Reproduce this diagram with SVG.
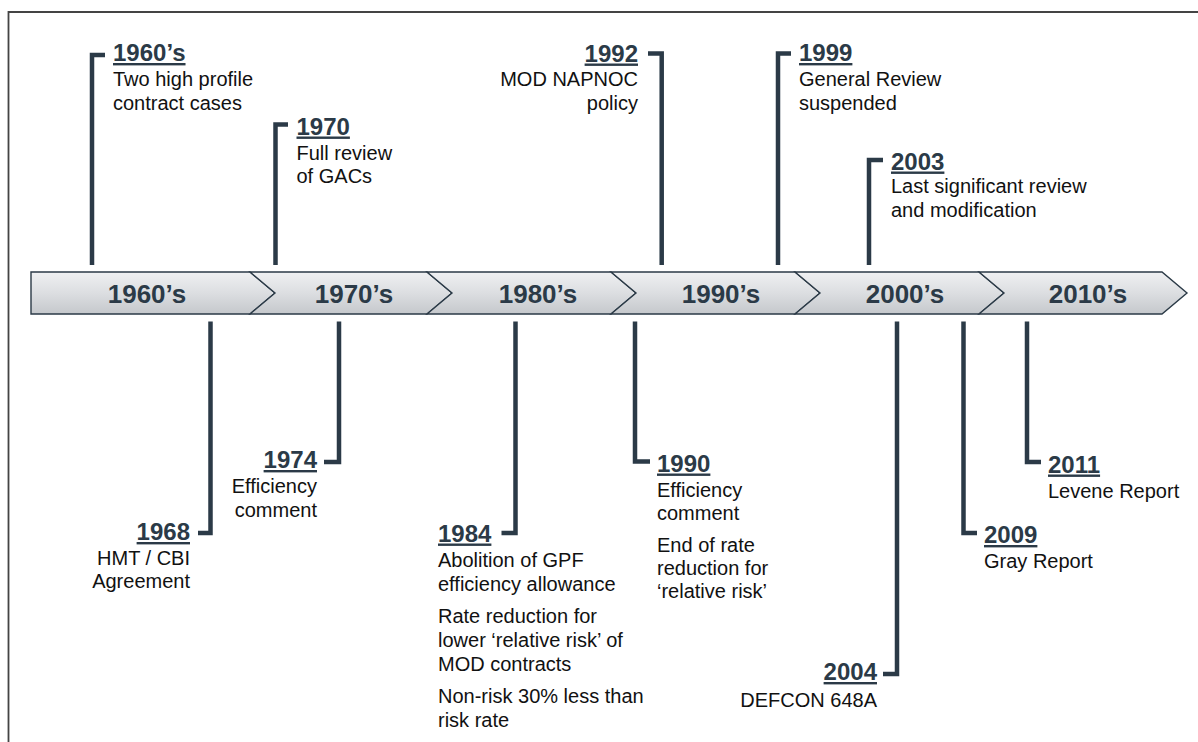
<svg xmlns="http://www.w3.org/2000/svg" width="1198" height="742" viewBox="0 0 1198 742">
  <defs>
    <linearGradient id="barFill" x1="0" y1="0" x2="0" y2="1">
      <stop offset="0" stop-color="#eff0f2"/>
      <stop offset="0.5" stop-color="#dcdee1"/>
      <stop offset="1" stop-color="#c5c8cc"/>
    </linearGradient>
    <style>
      .seg { fill: url(#barFill); stroke: #2b3a47; stroke-width: 1.4; stroke-linejoin: miter; }
      .decade { font-family: "Liberation Sans", Arial, sans-serif; font-weight: bold; font-size: 26px; fill: #2b3a47; text-anchor: middle; }
      .tick { fill: none; stroke: #2b3a47; stroke-width: 4.5; stroke-linejoin: miter; stroke-linecap: butt; }
      .year { font-family: "Liberation Sans", Arial, sans-serif; font-weight: bold; font-size: 24px; fill: #2b3a47; text-decoration: underline; }
      .body { font-family: "Liberation Sans", Arial, sans-serif; font-size: 20px; fill: #111111; }
      .end { text-anchor: end; }
    </style>
  </defs>

  <rect width="1198" height="742" fill="#ffffff"/>

  <!-- outer frame (open to the right and bottom) -->
  <path d="M8.5,742 V12 H1198" fill="none" stroke="#444444" stroke-width="1.8"/>

  <!-- decade bar -->
  <g id="timeline">
    <polygon class="seg" points="31,272 250,272 275,293 250,314 31,314"/>
    <polygon class="seg" points="250,272 427,272 452,293 427,314 250,314 275,293"/>
    <polygon class="seg" points="427,272 611,272 636,293 611,314 427,314 452,293"/>
    <polygon class="seg" points="611,272 795,272 820,293 795,314 611,314 636,293"/>
    <polygon class="seg" points="795,272 979,272 1004,293 979,314 795,314 820,293"/>
    <polygon class="seg" points="979,272 1162,272 1187,293 1162,314 979,314 1004,293"/>
    <text class="decade" x="147" y="303">1960’s</text>
    <text class="decade" x="354" y="303">1970’s</text>
    <text class="decade" x="538" y="303">1980’s</text>
    <text class="decade" x="721" y="303">1990’s</text>
    <text class="decade" x="905" y="303">2000’s</text>
    <text class="decade" x="1088" y="303">2010’s</text>
  </g>

  <!-- connectors from bar to events -->
  <g id="connectors">
    <path class="tick" d="M105,55 H92 V265"/>
    <path class="tick" d="M288,124.5 H275.5 V265"/>
    <path class="tick" d="M648,53.5 H661.7 V265"/>
    <path class="tick" d="M791,53.5 H778 V265"/>
    <path class="tick" d="M883,160 H869 V265"/>
    <path class="tick" d="M210.5,321.5 V533 H198"/>
    <path class="tick" d="M339,321.5 V462 H324"/>
    <path class="tick" d="M515.5,321.5 V533 H501.5"/>
    <path class="tick" d="M635,321.5 V461.5 H650"/>
    <path class="tick" d="M897,321.5 V674 H883"/>
    <path class="tick" d="M963.5,321.5 V533 H977"/>
    <path class="tick" d="M1027,321.5 V462 H1041"/>
  </g>

  <!-- events above the bar -->
  <g id="ev-1960s">
    <text class="year" x="113" y="61">1960’s</text>
    <text class="body" x="113" y="86">Two high profile</text>
    <text class="body" x="113" y="109.5">contract cases</text>
  </g>
  <g id="ev-1970">
    <text class="year" x="296.5" y="134.5">1970</text>
    <text class="body" x="296.5" y="159.5">Full review</text>
    <text class="body" x="296.5" y="183">of GACs</text>
  </g>
  <g id="ev-1992">
    <text class="year end" x="638" y="61.5">1992</text>
    <text class="body end" x="638" y="86">MOD NAPNOC</text>
    <text class="body end" x="638" y="110">policy</text>
  </g>
  <g id="ev-1999">
    <text class="year" x="799" y="61">1999</text>
    <text class="body" x="799" y="86">General Review</text>
    <text class="body" x="799" y="110">suspended</text>
  </g>
  <g id="ev-2003">
    <text class="year" x="891" y="169.5">2003</text>
    <text class="body" x="891" y="193">Last significant review</text>
    <text class="body" x="891" y="217">and modification</text>
  </g>

  <!-- events below the bar -->
  <g id="ev-1968">
    <text class="year end" x="190" y="540">1968</text>
    <text class="body end" x="190" y="565">HMT / CBI</text>
    <text class="body end" x="190" y="587.5">Agreement</text>
  </g>
  <g id="ev-1974">
    <text class="year end" x="317" y="468">1974</text>
    <text class="body end" x="317" y="493">Efficiency</text>
    <text class="body end" x="317" y="516.5">comment</text>
  </g>
  <g id="ev-1984">
    <text class="year" x="438" y="541.5">1984</text>
    <text class="body" x="438" y="566.5">Abolition of GPF</text>
    <text class="body" x="438" y="590.5">efficiency allowance</text>
    <text class="body" x="438" y="623">Rate reduction for</text>
    <text class="body" x="438" y="647">lower ‘relative risk’ of</text>
    <text class="body" x="438" y="671">MOD contracts</text>
    <text class="body" x="438" y="703">Non-risk 30% less than</text>
    <text class="body" x="438" y="727">risk rate</text>
  </g>
  <g id="ev-1990">
    <text class="year" x="657" y="471.5">1990</text>
    <text class="body" x="657" y="496.5">Efficiency</text>
    <text class="body" x="657" y="520">comment</text>
    <text class="body" x="657" y="551.5">End of rate</text>
    <text class="body" x="657" y="575">reduction for</text>
    <text class="body" x="657" y="598">‘relative risk’</text>
  </g>
  <g id="ev-2004">
    <text class="year end" x="877" y="680">2004</text>
    <text class="body end" x="877" y="706.5">DEFCON 648A</text>
  </g>
  <g id="ev-2009">
    <text class="year" x="984" y="543">2009</text>
    <text class="body" x="984" y="567.5">Gray Report</text>
  </g>
  <g id="ev-2011">
    <text class="year" x="1048" y="472.5">2011</text>
    <text class="body" x="1048" y="497.5">Levene Report</text>
  </g>
</svg>
